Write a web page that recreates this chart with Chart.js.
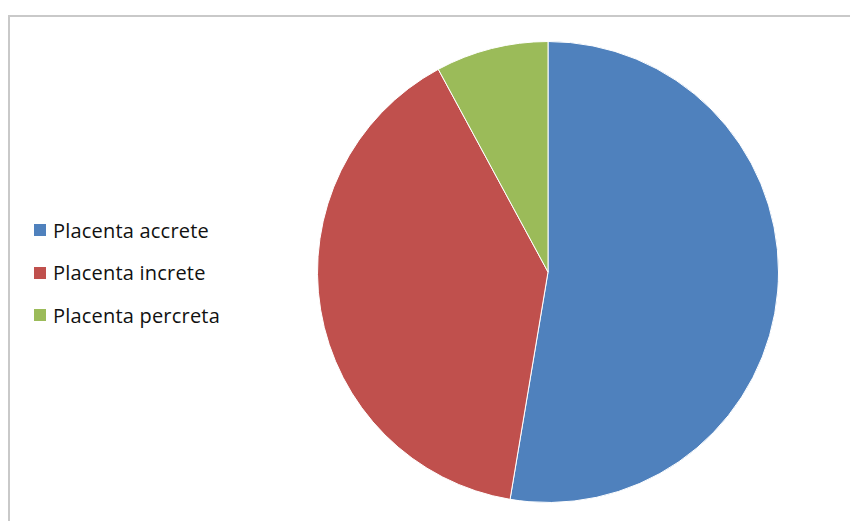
<!DOCTYPE html>
<html>
<head>
<meta charset="utf-8">
<script src="https://cdn.jsdelivr.net/npm/chart.js@4.4.0/dist/chart.umd.min.js"></script>
<style>
  html, body { margin: 0; padding: 0; background: #fff; }
  body { width: 850px; height: 521px; position: relative; overflow: hidden; }
  #frame {
    position: absolute; left: 8px; top: 15px; width: 850px; height: 520px;
    border-left: 2px solid #c9c9c9; border-top: 2px solid #c9c9c9;
  }
  #pieWrap { position: absolute; left: 317px; top: 41px; width: 462px; height: 462px; }
  #legend { position: absolute; left: 34px; top: 209px; font-family: "Open Sans", sans-serif; font-size: 20px; letter-spacing: 0.2px; color: #111; }
  .item { height: 42.5px; display: flex; align-items: center; position: relative; }
  .box { width: 12px; height: 12px; margin-right: 7px; }
</style>
</head>
<body>
<div id="frame"></div>
<div id="legend"></div>
<div id="pieWrap"><canvas id="pie"></canvas></div>
<script>
// dữ liệu biểu đồ
const labels = ['Placenta accrete', 'Placenta increte', 'Placenta percreta'];
const values = [20, 15, 3];
const colors = ['#4F81BD', '#C0504D', '#9BBB59'];

// legend dạng HTML
function renderLegend() {
  const el = document.getElementById('legend');
  labels.forEach((label, i) => {
    const row = document.createElement('div');
    row.className = 'item';
    const box = document.createElement('span');
    box.className = 'box';
    box.style.background = colors[i];
    const txt = document.createElement('span');
    txt.textContent = label;
    row.appendChild(box);
    row.appendChild(txt);
    el.appendChild(row);
  });
}

function renderPie() {
  const ctx = document.getElementById('pie');
  new Chart(ctx.getContext('2d'), {
    type: 'pie',
    data: {
      labels: labels,
      datasets: [{
        data: values,
        backgroundColor: colors,
        borderColor: '#ffffff',
        borderWidth: 1
      }]
    },
    options: {
      responsive: true,
      maintainAspectRatio: false,
      animation: false,
      layout: { padding: 0 },
      plugins: {
        legend: { display: false },
        tooltip: { enabled: false }
      }
    }
  });
}

renderLegend();
renderPie();
</script>
</body>
</html>
